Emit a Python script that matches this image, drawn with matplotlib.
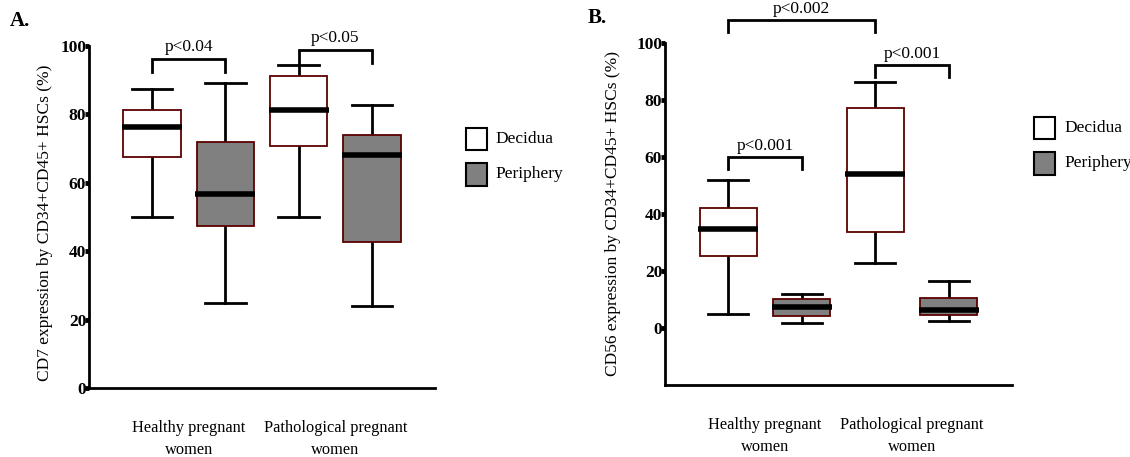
import matplotlib
matplotlib.use("Agg")
import matplotlib.pyplot as plt
from matplotlib.patches import Rectangle

plt.rcParams["font.family"] = ["Liberation Serif", "DejaVu Serif"]

# box statistics: (whislo, q1, med, q3, whishi)
groups = ["Healthy pregnant\nwomen", "Pathological pregnant\nwomen"]
tissues = ["Decidua", "Periphery"]

cd7_stats = [
    (49.9, 67.4, 76.2, 81.2, 87.4),   # healthy decidua
    (24.9, 47.5, 56.6, 71.8, 89.2),   # healthy periphery
    (49.9, 70.7, 81.2, 91.2, 94.4),   # pathological decidua
    (24.0, 42.6, 68.0, 74.0, 82.7),   # pathological periphery
]
cd56_stats = [
    (5.0, 25.3, 34.7, 42.1, 51.9),
    (1.8, 4.2, 7.4, 10.2, 11.9),
    (22.8, 33.7, 54.0, 77.2, 86.3),
    (2.5, 4.6, 6.3, 10.5, 16.5),
]

# significance brackets: (x1, x2, bar height, leg bottom, label)
cd7_brackets = [(1, 2, 96.2, 92.4, "p<0.04"), (3, 4, 98.8, 95.0, "p<0.05")]
cd56_brackets = [(1, 3, 108.0, 104.0, "p<0.002"),
                 (1, 2, 60.0, 55.8, "p<0.001"),
                 (3, 4, 92.3, 88.0, "p<0.001")]

fills = ["white", "#808080"]
edge = "#5c0000"

fig = plt.figure(figsize=(11.3, 4.57), dpi=100)


def panel(rect, stats, brackets, ylim, yticks, ylabel, label_xy, letter, letter_xy):
    ax = fig.add_axes(rect)
    bxp_stats = []
    for s in stats:
        bxp_stats.append(dict(whislo=s[0], q1=s[1], med=s[2], q3=s[3], whishi=s[4]))
    parts = ax.bxp(bxp_stats, positions=[1, 2, 3, 4], widths=0.78,
                   showfliers=False, patch_artist=True,
                   boxprops=dict(edgecolor=edge, linewidth=1.3),
                   whiskerprops=dict(color="black", linewidth=2),
                   capprops=dict(color="black", linewidth=2),
                   medianprops=dict(color="black", linewidth=4, solid_capstyle="butt"),
                   capwidths=0.55)
    for i, b in enumerate(parts["boxes"]):
        b.set_facecolor(fills[i % 2])
        b.set_zorder(3)
    for m in parts["medians"]:
        m.set_zorder(4)
        m.set_xdata([m.get_xdata()[0] - 0.02, m.get_xdata()[1] + 0.02])

    for x1, x2, h, low, label in brackets:
        ax.plot([x1, x1, x2, x2], [low, h, h, low], color="black", lw=2,
                clip_on=False, solid_joinstyle="miter")
        ax.text((x1 + x2) / 2, h + 1.2, label, ha="center", va="bottom",
                fontsize=12.5, clip_on=False)

    ax.set_xlim(0.14, 4.86)
    ax.set_ylim(*ylim)
    ax.set_yticks(yticks)
    ax.set_yticklabels([str(t) for t in yticks], fontweight="bold", fontsize=12.5)
    ax.tick_params(axis="y", length=3, width=3.5, pad=-1)
    ax.set_xticks([])
    for s in ["top", "right"]:
        ax.spines[s].set_visible(False)
    for s in ["left", "bottom"]:
        ax.spines[s].set_linewidth(2)
    ax.set_ylabel(ylabel, fontsize=12.5)
    ax.yaxis.set_label_coords(*label_xy)
    for j, g in enumerate(groups):
        ax.text(1.5 + 2 * j, -0.095, g, transform=ax.get_xaxis_transform(),
                ha="center", va="top", fontsize=11.8, linespacing=1.45)
    fig.text(letter_xy[0], letter_xy[1], letter, fontsize=15, fontweight="bold",
             ha="left", va="center")
    return ax


panel([89 / 1130, 1 - 388 / 457, 346 / 1130, 342 / 457], cd7_stats, cd7_brackets,
      (0, 100), [0, 20, 40, 60, 80, 100],
      "CD7 expression by CD34+CD45+ HSCs (%)", (-0.105, 0.482),
      "A.", (10 / 1130, 1 - 21 / 457))
panel([665 / 1130, 1 - 385 / 457, 347 / 1130, 342 / 457], cd56_stats, cd56_brackets,
      (-20, 100), [0, 20, 40, 60, 80, 100],
      "CD56 expression by CD34+CD45+ HSCs (%)", (-0.128, 0.5),
      "B.", (588 / 1130, 1 - 18 / 457))

# legends drawn as figure patches
for (bx, by0, tx) in [(466, 128, 495), (1034, 117, 1064)]:
    for k, t in enumerate(tissues):
        y_top = by0 + k * 35.5
        fig.patches.append(Rectangle((bx / 1130, 1 - (y_top + 22) / 457),
                                     21 / 1130, 22 / 457, transform=fig.transFigure,
                                     facecolor=fills[k], edgecolor="black", lw=1.5))
        fig.text(tx / 1130, 1 - (y_top + 11) / 457, t, fontsize=12.5,
                 ha="left", va="center")

fig.savefig("out.png", dpi=100)
